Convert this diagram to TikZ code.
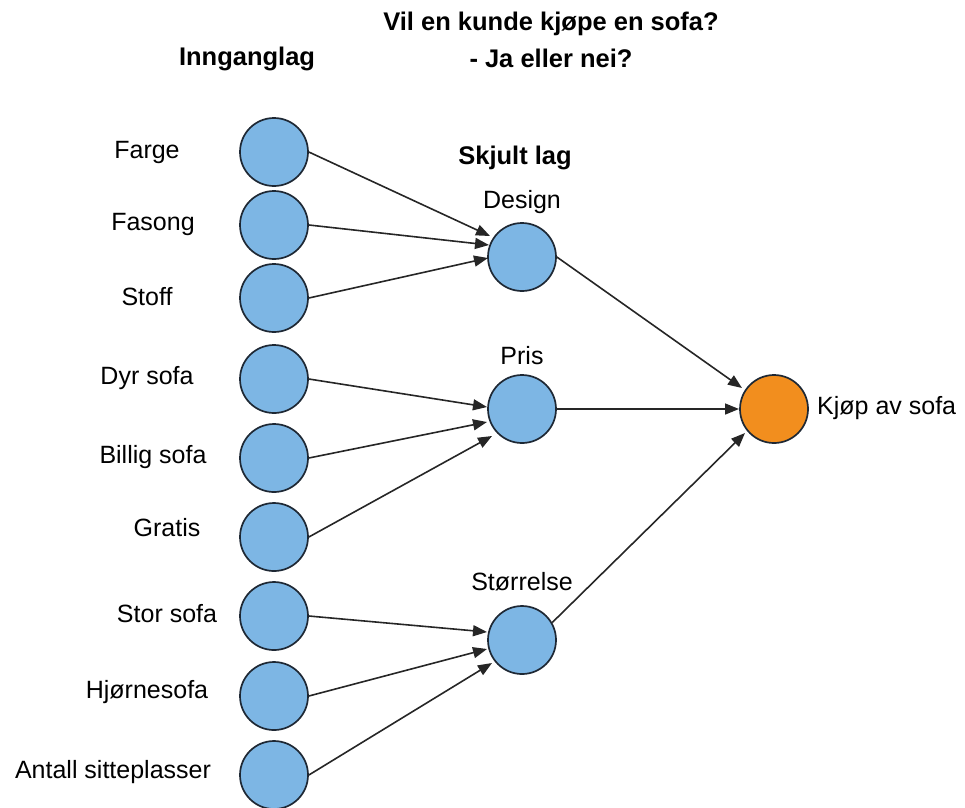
\documentclass[tikz,border=0pt]{standalone}
\usepackage{fontspec}
\setmainfont{Liberation Sans}
\usetikzlibrary{arrows.meta,calc}

\definecolor{nodeblue}{RGB}{125,182,228}
\definecolor{nodeorange}{RGB}{242,142,30}
\definecolor{rim}{RGB}{30,40,52}

\tikzset{
  neuron/.style={circle, draw=rim, line width=1.7pt, fill=nodeblue,
                 minimum size=68pt, inner sep=0pt},
  outneuron/.style={neuron, fill=nodeorange},
  lbl/.style={font=\fontsize{25}{29}\selectfont, text=black, inner sep=0pt},
  heading/.style={font=\fontsize{25.5}{29}\selectfont\bfseries, text=black, inner sep=0pt},
  link/.style={draw=black!85, line width=1.6pt,
               -{Triangle[length=14pt,width=11pt]}}
}

\begin{document}
\begin{tikzpicture}[x=1pt,y=-1pt]
  \useasboundingbox (0,0) rectangle (965,807);

  % headings
  \node[heading] (title1) at (551,24) {Vil en kunde kjøpe en sofa?};
  \node[heading] (title2) at (551,58) {- Ja eller nei?};
  \node[heading] (inlayer) at (247,59) {Innganglag};
  \node[heading] (hidlayer) at (515,158) {Skjult lag};

  % input layer
  \node[neuron] (farge)   at (274,152) {};
  \node[neuron] (fasong)  at (274,225) {};
  \node[neuron] (stoff)   at (274,298) {};
  \node[neuron] (dyr)     at (274,379) {};
  \node[neuron] (billig)  at (274,458) {};
  \node[neuron] (gratis)  at (274,537) {};
  \node[neuron] (stor)    at (274,616) {};
  \node[neuron] (hjorne)  at (274,696) {};
  \node[neuron] (antall)  at (274,775) {};

  \node[lbl] (lfarge)  at (147,152) {Farge};
  \node[lbl] (lfasong) at (153,224) {Fasong};
  \node[lbl] (lstoff)  at (147,297) {Stoff};
  \node[lbl] (ldyr)    at (147,378) {Dyr sofa};
  \node[lbl] (lbillig) at (153,457) {Billig sofa};
  \node[lbl] (lgratis) at (167,528) {Gratis};
  \node[lbl] (lstor)   at (167,614) {Stor sofa};
  \node[lbl] (lhjorne) at (147,692) {Hjørnesofa};
  \node[lbl] (lantall) at (113,772) {Antall sitteplasser};

  % hidden layer
  \node[neuron] (design)  at (522,257) {};
  \node[neuron] (pris)    at (522,409) {};
  \node[neuron] (storrel) at (522,640) {};
  \node[lbl] (ldesign)  at (522,202) {Design};
  \node[lbl] (lpris)    at (522,356) {Pris};
  \node[lbl] (lstorrel) at (522,582) {Størrelse};

  % output
  \node[outneuron] (kjop) at (774,409) {};
  \node[lbl, anchor=west] (lkjop) at (817,408) {Kjøp av sofa};

  % input -> hidden
  \draw[link] (farge.east)  -- ($(design.center)+(-32,-21)$);
  \draw[link] (fasong.east) -- ($(design.center)+(-33,-12)$);
  \draw[link] (stoff.east)  -- ($(design.center)+(-34,1)$);

  \draw[link] (dyr.east)    -- ($(pris.center)+(-35,-2)$);
  \draw[link] (billig.east) -- ($(pris.center)+(-35,13)$);
  \draw[link] (gratis.east) -- ($(pris.center)+(-30,27)$);

  \draw[link] (stor.east)   -- ($(storrel.center)+(-35,-8)$);
  \draw[link] (hjorne.east) -- ($(storrel.center)+(-35,9)$);
  \draw[link] (antall.east) -- ($(storrel.center)+(-30,23)$);

  % hidden -> output
  \draw[link] (design.east)  -- ($(kjop.center)+(-32,-21)$);
  \draw[link] (pris.east)    -- ($(kjop.center)+(-35,0)$);
  \draw[link] (storrel.30)   -- ($(kjop.center)+(-29,24)$);
\end{tikzpicture}
\end{document}
